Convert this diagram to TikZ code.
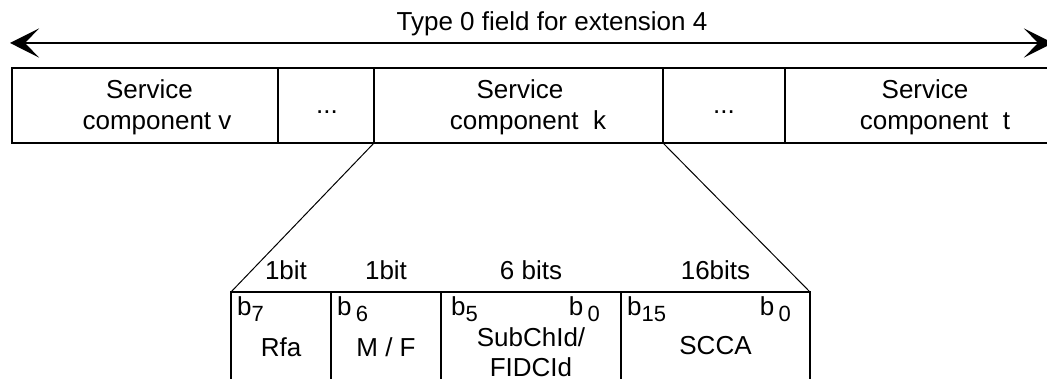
\documentclass[tikz,border=0pt]{standalone}
\usepackage{fontspec}
\setmainfont{Liberation Sans}
\usetikzlibrary{arrows.meta}
\newcommand\lowdig[1]{\raisebox{-6pt}{\fontsize{22}{22}\selectfont #1}}
\tikzset{
  cell/.style={draw, line width=2pt, inner sep=0pt, outer sep=0pt, minimum height=75pt},
  lowcell/.style={draw, line width=2pt, inner sep=0pt, outer sep=0pt, minimum height=108pt},
  lbl/.style={font=\fontsize{26}{30}\selectfont, inner sep=0pt, anchor=base},
  lblw/.style={lbl, anchor=base west},
  lble/.style={lbl, anchor=base east},
  zoomline/.style={line width=1pt},
  chev/.tip={Stealth[length=29pt 0, width=29pt 0, inset=14pt 0]},
}
\begin{document}
\begin{tikzpicture}[x=1pt, y=-1pt]
\useasboundingbox (0,0) rectangle (1047,379);
\fill[white] (0,0) rectangle (1047,379);
\clip (0,0) rectangle (1047,379);

% arrow and title
\coordinate (al) at (10,43);
\coordinate (ar) at (1053,43);
\draw[line width=2pt, chev-chev] (al) -- (ar);
\node[lbl] (title) at (552,31) {Type 0 field for extension 4};

% top row of boxes
\node[cell, minimum width=266pt] (v)  at (145,105.5) {};
\node[cell, minimum width=96pt]  (d1) at (326,105.5) {};
\node[cell, minimum width=289pt] (k)  at (518.5,105.5) {};
\node[cell, minimum width=122pt] (d2) at (724,105.5) {};
\node[cell, minimum width=280pt] (t)  at (925,105.5) {};

\node[lbl] (v1) at (149.5,99) {Service};
\node[lbl] (v2) at (157,130) {component v};
\node[lbl] (d1t) at (327,114) {...};
\node[lbl] (k1) at (520,99) {Service};
\node[lbl] (k2) at (528,130) {component\ \ k};
\node[lbl] (d2t) at (724,114) {...};
\node[lbl] (t1) at (925,99) {Service};
\node[lbl] (t2) at (935,130) {component\ \ t};

% lower expanded field
\node[lowcell, minimum width=100pt] (rfa)  at (281,346) {};
\node[lowcell, minimum width=110pt] (mf)   at (386,346) {};
\node[lowcell, minimum width=180pt] (sub)  at (531,346) {};
\node[lowcell, minimum width=189pt] (scca) at (715.5,346) {};

\draw[zoomline] (k.south west) -- (rfa.north west);
\draw[zoomline] (k.south east) -- (scca.north east);

\node[lbl] (w1) at (286,280) {1bit};
\node[lbl] (w2) at (386,280) {1bit};
\node[lbl] (w3) at (531,280) {6 bits};
\node[lbl] (w4) at (715.5,280) {16bits};

\node[lblw] (b7)  at (237,316) {b\lowdig{7}};
\node[lblw] (b6)  at (337,316) {b\,\lowdig{6}};
\node[lblw] (b5)  at (451,316) {b\lowdig{5}};
\node[lble] (b0a) at (600,316) {b\,\lowdig{0}};
\node[lblw] (b15) at (627,316) {b\lowdig{15}};
\node[lble] (b0b) at (791,316) {b\,\lowdig{0}};

\node[lbl] (rfat) at (281,356) {Rfa};
\node[lbl] (mft)  at (386,356) {M / F};
\node[lbl] (sub1) at (531,347) {SubChId/};
\node[lbl] (sub2) at (531,376) {FIDCId};
\node[lbl] (sccat) at (715.5,355) {SCCA};
\end{tikzpicture}
\end{document}
